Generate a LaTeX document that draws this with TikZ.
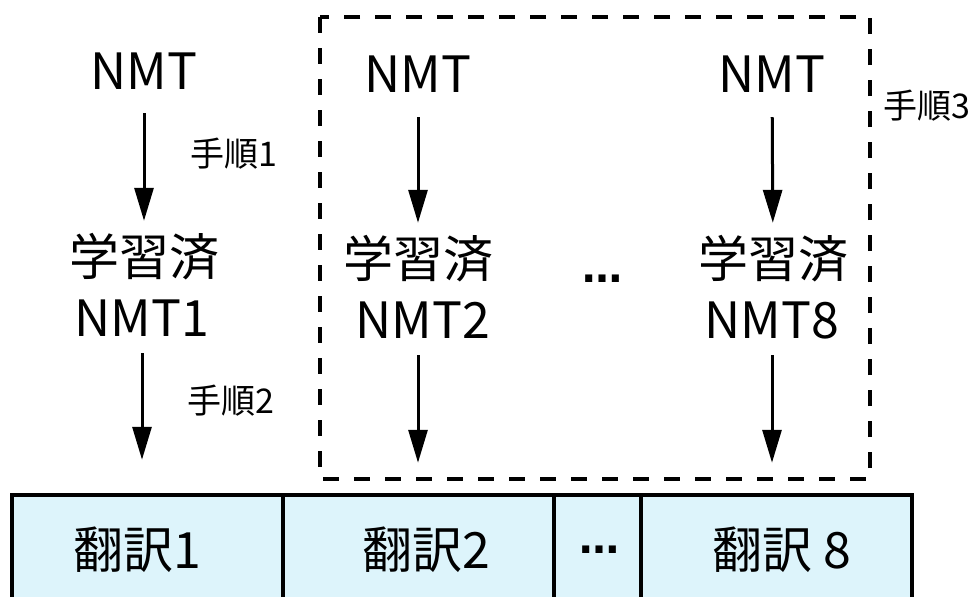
\documentclass[tikz,border=0pt]{standalone}
\usepackage{fontspec}
\setmainfont{Noto Sans CJK JP}
\newfontfamily\dotfont{DejaVu Sans}
\usetikzlibrary{arrows.meta}
\definecolor{boxfill}{HTML}{DDF4FB}
\tikzset{
  big/.style={font=\fontsize{50}{60}\selectfont, inner sep=0pt, text height=37pt, text depth=0pt, anchor=base},
  small/.style={font=\fontsize{34}{40}\selectfont, inner sep=0pt},
  arr/.style={line width=3pt, -{Triangle[length=33pt,width=19pt]}},
  cell/.style={draw, line width=4.5pt, fill=boxfill, minimum height=115pt, inner sep=0pt},
  celltext/.style={font=\fontsize{50}{60}\selectfont, inner sep=0pt},
  dotstext/.style={font=\dotfont\bfseries\fontsize{40}{46}\selectfont, inner sep=0pt},
  dashbox/.style={line width=4pt, dash pattern=on 16pt off 15pt}
}
\begin{document}
\begin{tikzpicture}[x=1pt, y=-1pt]
\useasboundingbox (0,0) rectangle (980,597);
\clip (0,0) rectangle (980,597);

% dashed box
\draw[dashbox] (320,17) rectangle (870,479);

% bottom cells
\node[cell, minimum width=271pt] (b1) at (147.5,552.5) {};
\node[cell, minimum width=271pt] (b2) at (418.5,552.5) {};
\node[cell, minimum width=87pt] (b3) at (597.5,552.5) {};
\node[cell, minimum width=271pt] (b4) at (776.5,552.5) {};
\node[celltext] (t1) at (137,550) {翻訳1};
\node[celltext] (t2) at (426,550) {翻訳2};
\node[dotstext, anchor=base] (t3) at (599,553) {…};
\node[celltext] (t4) at (782,550) {翻訳 8};

% column 1
\node[big] (n1) at (144,89) {NMT};
\node[big] (l1) at (144,275) {学習済};
\node[big] (m1) at (142,336) {NMT1};
\draw[arr, shorten <=24pt, shorten >=17pt] (n1) -- (l1);
\draw[arr, shorten <=17pt, shorten >=33pt] (m1.south) -- (m1.south |- b1.north);
\node[small] (s1) at (234,154) {手順1};
\node[small] (s2) at (231,401) {手順2};

% column 2
\node[big] (n2) at (418,92) {NMT};
\node[big] (l2) at (418,277) {学習済};
\node[big] (m2) at (423,338) {NMT2};
\draw[arr, shorten <=25pt, shorten >=17pt] (n2) -- (l2);
\draw[arr, shorten <=17pt, shorten >=30pt] (m2.south -| n2) -- (n2 |- b2.north);

% middle dots
\node[dotstext, anchor=base] (dd) at (602,282) {…};

% column 3
\node[big] (n3) at (772,92) {NMT};
\node[big] (l3) at (773,277) {学習済};
\node[big] (m3) at (772,338) {NMT8};
\draw[arr, shorten <=25pt, shorten >=17pt] (n3) -- (l3);
\draw[arr, shorten <=17pt, shorten >=30pt] (m3.south) -- (m3.south |- b4.north);

\node[small] (s3) at (927,106) {手順3};
\end{tikzpicture}
\end{document}
